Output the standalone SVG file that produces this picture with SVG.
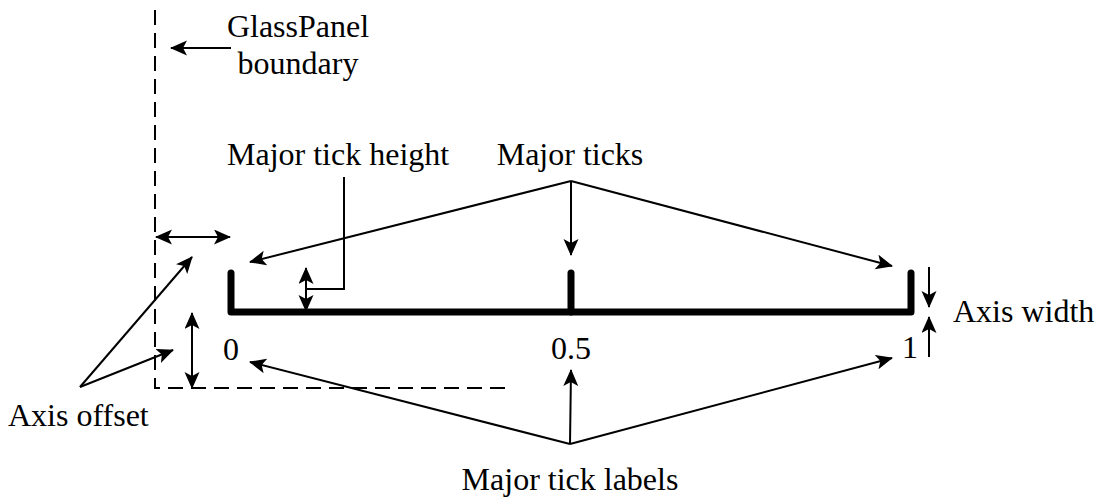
<svg xmlns="http://www.w3.org/2000/svg" width="1102" height="497" viewBox="0 0 1102 497">
<style>
  .lbl { font-size: 32px; fill: #000; }
  .mid { text-anchor: middle; }
  .con { stroke: #000; stroke-width: 2; fill: none; }
  .arr { marker-end: url(#ah); }
  .dbl { marker-start: url(#ah); marker-end: url(#ah); }
  .dash { stroke: #000; stroke-width: 2; fill: none; stroke-dasharray: 15 8; }
  .axis { stroke: #000; stroke-width: 7; fill: none; stroke-linecap: round; stroke-linejoin: round; }
</style>
<defs>
  <marker id="ah" markerUnits="userSpaceOnUse" markerWidth="18" markerHeight="16" refX="16" refY="7.5" orient="auto-start-reverse">
    <path d="M0,0 L17,7.5 L0,15 L4,7.5 z" fill="#000"/>
  </marker>
</defs>
<rect width="1102" height="497" fill="#fff"/>
<g id="boundary">
  <path class="dash" d="M155,10 L155,388 L511,388"/>
</g>
<g id="axis">
  <path class="axis" d="M231,273 L231,312 L911,312 L911,273"/>
  <path class="axis" d="M571,273 L571,312"/>
</g>
<g font-family="Liberation Serif, DejaVu Serif, serif">
<g id="labels">
  <text class="lbl mid" x="231" y="360">0</text>
  <text class="lbl mid" x="571" y="359">0.5</text>
  <text class="lbl mid" x="910" y="358">1</text>
</g>
<g id="glasspanel-label">
  <text class="lbl mid" x="298" y="37">GlassPanel</text>
  <text class="lbl mid" x="298" y="74">boundary</text>
</g>
<g id="major-tick-height-label"><text class="lbl" x="227" y="165">Major tick height</text></g>
<g id="major-ticks-label"><text class="lbl mid" x="570" y="165">Major ticks</text></g>
<g id="axis-width-label"><text class="lbl" x="953" y="322">Axis width</text></g>
<g id="axis-offset-label"><text class="lbl" x="8" y="426">Axis offset</text></g>
<g id="major-tick-labels-label"><text class="lbl mid" x="570" y="490">Major tick labels</text></g>
</g>
<g id="connectors">
  <path class="con arr" d="M231,48 L171,48"/>
  <path class="con dbl" d="M156,237 L230,237"/>
  <path class="con arr" d="M80,387 L192,257"/>
  <path class="con arr" d="M80,387 L173,350"/>
  <path class="con dbl" d="M192,313 L192,388"/>
  <path class="con dbl" d="M306,268 L306,311"/>
  <path class="con" d="M306,289 L344,289 L344,177"/>
  <path class="con arr" d="M571,181 L250,262"/>
  <path class="con arr" d="M571,181 L571,255"/>
  <path class="con arr" d="M571,181 L892,266"/>
  <path class="con arr" d="M570,444 L250,362"/>
  <path class="con arr" d="M570,444 L571,370"/>
  <path class="con arr" d="M570,444 L892,358"/>
  <path class="con arr" d="M929,267 L929,307"/>
  <path class="con arr" d="M929,357 L929,317"/>
</g>
</svg>
